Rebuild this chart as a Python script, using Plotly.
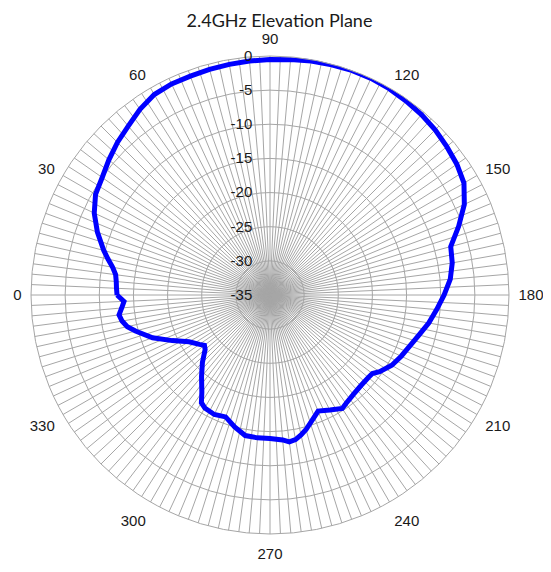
import plotly.graph_objects as go

# Measured gain (dB) versus angle (degrees) - 2.4GHz elevation plane
angles = [0, 2.5, 5, 7.5, 10, 12.5, 15, 20, 25, 30, 35, 40, 45, 50, 55, 60, 65, 70, 75, 80,
          85, 90, 95, 100, 105, 110, 115, 120, 125, 130, 135, 140, 145, 150, 155, 160, 165,
          170, 175, 180, 185, 190, 195, 200, 205, 210, 215, 217.5, 220, 225, 230, 235, 237.5,
          242.5, 247.5, 250, 255, 257.5, 260, 262.5, 265, 270, 275, 280, 285, 290, 295, 300,
          302.5, 305, 310, 315, 320, 322.5, 325, 330, 335, 340, 345, 347.5, 350, 352.5, 355,
          357.5]
gain_db = [-12.6, -12.5, -12.4, -12.2, -11.6, -10.7, -9.8, -8.1, -6.6, -5.5, -5.0, -4.2, -3.4,
           -2.7, -1.8, -1.1, -0.9, -0.9, -0.8, -0.7, -0.6, -0.5, -0.4, -0.2, -0.1, 0.0, 0.0,
           -0.1, -0.3, -0.5, -0.8, -1.2, -1.6, -2.2, -3.6, -5.6, -7.6, -7.9, -8.5, -9.5, -10.5,
           -11.4, -12.4, -13.2, -13.8, -14.4, -15.4, -16.1, -16.2, -16.2, -16.0, -15.6, -15.3,
           -16.0, -16.6, -16.0, -14.6, -14.0, -13.5, -13.3, -13.7, -14.0, -14.0, -14.1, -15.0,
           -16.0, -15.7, -15.9, -16.3, -17.6, -19.4, -21.0, -22.6, -22.9, -22.4, -21.3, -19.2,
           -16.7, -14.6, -13.6, -13.0, -12.7, -13.2, -13.6]

# Category spokes every 2.5 degrees, labelled every 30 degrees
spoke_step = 2.5
angle_labels = ["0", "30", "60", "90", "120", "150", "180", "210", "240", "270", "300", "330"]
radial_ticks = [-35, -30, -25, -20, -15, -10, -5, 0]
radial_labels = ["-35", "-30", "-25", "-20", "-15", "-10", "-5", "0"]

spokes = [i * spoke_step for i in range(int(360 / spoke_step))]
label_lookup = {float(s): s for s in angle_labels}
spoke_text = [label_lookup.get(a, "") for a in spokes]

theta_closed = angles + [angles[0]]
r_closed = gain_db + [gain_db[0]]

fig = go.Figure()
fig.add_trace(go.Scatterpolar(
    r=r_closed, theta=theta_closed, mode="lines",
    line=dict(color="#0000ff", width=5),
    showlegend=False, hoverinfo="skip",
))

W, H = 543, 564
grid = "#a6a6a6"
fig.update_layout(
    width=W, height=H,
    paper_bgcolor="white",
    margin=dict(l=23, r=42, t=48, b=38),
    title=dict(text="2.4GHz Elevation Plane", x=0.5, xanchor="center",
               y=1 - 12.5 / H, yanchor="middle", yref="container",
               font=dict(family="Lato", size=18, color="#1a1a1a")),
    polar=dict(
        bgcolor="white",
        domain=dict(x=[0, 1], y=[0, 1]),
        angularaxis=dict(
            rotation=180, direction="clockwise",
            tickmode="array", tickvals=spokes, ticktext=spoke_text,
            ticks="outside", ticklen=6, tickcolor="rgba(0,0,0,0)",
            showgrid=True, gridcolor=grid, gridwidth=1,
            showline=True, linecolor=grid, linewidth=1,
            tickfont=dict(family="Liberation Sans", size=15, color="#1a1a1a"),
        ),
        radialaxis=dict(
            range=[-35, 0], angle=90, tickangle=90, side="counterclockwise",
            tickmode="array", tickvals=radial_ticks, ticktext=radial_labels,
            ticks="outside", ticklen=12, tickcolor="rgba(0,0,0,0)",
            showline=False, showgrid=True, gridcolor=grid, gridwidth=1,
            tickfont=dict(family="Liberation Sans", size=15, color="#1a1a1a"),
        ),
    ),
)

fig.write_html("out.html")
